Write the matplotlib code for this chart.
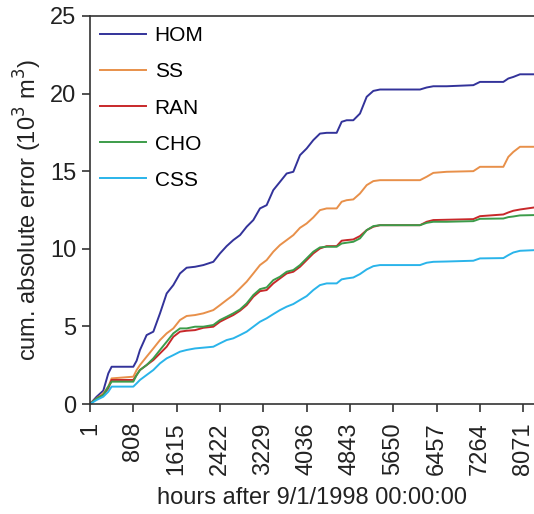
import numpy as np
import matplotlib
matplotlib.use("Agg")
import matplotlib.pyplot as plt

plt.rcParams["font.family"] = ["Liberation Sans", "DejaVu Sans"]

# hours after 9/1/1998 00:00:00 (sampled from the figure)
hours = [1, 125, 249, 342, 404, 808, 870, 932, 1056, 1181, 1305, 1429, 1553, 1677,
         1801, 1957, 2112, 2298, 2422, 2546, 2670, 2795, 2919, 3043, 3167, 3291,
         3415, 3539, 3664, 3788, 3912, 4036, 4160, 4284, 4409, 4595, 4688, 4781,
         4905, 5029, 5154, 5278, 5402, 6147, 6271, 6395, 6644, 7140, 7264, 7699,
         7792, 7885, 8009, 8270]

# cumulative absolute error (10^3 m^3)
hom = [0, 0.47, 0.86, 1.97, 2.40, 2.40, 2.79, 3.48, 4.44, 4.66, 5.84, 7.12, 7.66, 8.41,
       8.78, 8.84, 8.95, 9.16, 9.70, 10.17, 10.56, 10.88, 11.42, 11.85, 12.60, 12.81,
       13.78, 14.31, 14.85, 14.96, 16.03, 16.46, 17.00, 17.42, 17.47, 17.47, 18.18, 18.28,
       18.28, 18.71, 19.79, 20.17, 20.26, 20.26, 20.39, 20.47, 20.47, 20.54, 20.75, 20.75,
       20.97, 21.07, 21.24, 21.24]
ss = [0, 0.36, 0.69, 1.12, 1.65, 1.76, 2.19, 2.51, 3.05, 3.58, 4.12, 4.55, 4.87, 5.41,
      5.67, 5.73, 5.84, 6.05, 6.37, 6.70, 7.02, 7.45, 7.88, 8.41, 8.95, 9.27,
      9.81, 10.24, 10.56, 10.88, 11.35, 11.63, 12.02, 12.49, 12.60, 12.60, 13.03, 13.13,
      13.18, 13.56, 14.10, 14.36, 14.42, 14.42, 14.64, 14.89, 14.96, 15.00, 15.28, 15.28,
      15.92, 16.24, 16.57, 16.57]
ran = [0, 0.36, 0.58, 1.01, 1.55, 1.55, 1.87, 2.19, 2.51, 2.83, 3.26, 3.69, 4.33, 4.66,
       4.72, 4.76, 4.91, 4.98, 5.30, 5.52, 5.73, 6.01, 6.37, 6.91, 7.27, 7.34,
       7.77, 8.09, 8.41, 8.52, 8.84, 9.27, 9.70, 10.02, 10.17, 10.17, 10.52, 10.56,
       10.60, 10.82, 11.20, 11.42, 11.52, 11.52, 11.74, 11.85, 11.87, 11.91, 12.10, 12.21,
       12.34, 12.45, 12.53, 12.66]
cho = [0, 0.36, 0.58, 1.12, 1.44, 1.44, 1.87, 2.19, 2.51, 2.94, 3.48, 4.01, 4.55, 4.87,
       4.87, 4.98, 4.98, 5.09, 5.41, 5.62, 5.84, 6.09, 6.48, 7.02, 7.40, 7.51,
       7.98, 8.20, 8.52, 8.63, 8.95, 9.38, 9.81, 10.09, 10.13, 10.13, 10.34, 10.39,
       10.45, 10.67, 11.20, 11.46, 11.52, 11.52, 11.67, 11.74, 11.74, 11.78, 11.93, 11.95,
       12.04, 12.08, 12.15, 12.17]
css = [0, 0.26, 0.47, 0.79, 1.12, 1.12, 1.33, 1.55, 1.87, 2.19, 2.62, 2.94, 3.15, 3.37,
       3.48, 3.58, 3.63, 3.69, 3.91, 4.12, 4.23, 4.44, 4.66, 4.98, 5.30, 5.52,
       5.79, 6.05, 6.27, 6.44, 6.70, 6.95, 7.34, 7.66, 7.77, 7.77, 8.03, 8.09,
       8.15, 8.37, 8.67, 8.88, 8.95, 8.95, 9.10, 9.16, 9.18, 9.23, 9.38, 9.40,
       9.59, 9.76, 9.87, 9.91]

series = [("HOM", hom, "#33339a"), ("SS", ss, "#e8904a"), ("RAN", ran, "#c8282a"),
          ("CHO", cho, "#3c9c4a"), ("CSS", css, "#2ab4ea")]

xticks = [1, 808, 1615, 2422, 3229, 4036, 4843, 5650, 6457, 7264, 8071]

fig = plt.figure(figsize=(5.34, 5.14), dpi=100)
ax = fig.add_axes([0.1685, 0.214, 0.8315, 0.755])

for name, vals, col in series:
    ax.plot(hours, vals, color=col, lw=1.4, label=name)

ax.set_xlim(1, 8270)
ax.set_ylim(0, 25)
ax.set_xticks(xticks)
ax.set_xticklabels([str(t) for t in xticks], rotation=90)
ax.set_yticks(np.arange(0, 26, 5))
ax.tick_params(axis="both", direction="out", length=6, width=1.2, colors="#333333",
               labelsize=17, labelcolor="#222222", pad=4)
ax.tick_params(axis="x", pad=7)
for s in ["left", "bottom", "top"]:
    ax.spines[s].set_linewidth(1.2)
    ax.spines[s].set_color("#333333")
ax.spines["right"].set_visible(False)

ax.set_xlabel("hours after 9/1/1998 00:00:00", fontsize=17, color="#222222", labelpad=9)
ax.set_ylabel("cum. absolute error (10$^3$ m$^3$)", fontsize=17, color="#222222", labelpad=4)

ax.legend(loc="upper left", frameon=False, fontsize=15, handlelength=2.2,
          handletextpad=0.4, labelspacing=0.82, borderaxespad=0.1)

fig.savefig("out.png", dpi=100)
